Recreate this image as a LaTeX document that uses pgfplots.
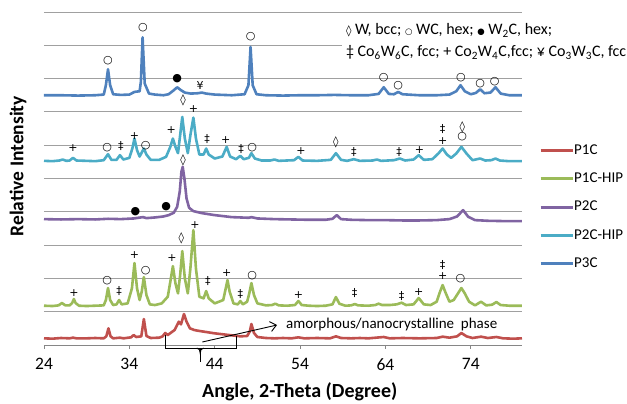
\documentclass[border=0pt]{standalone}
\usepackage{fontspec}
\setmainfont{Carlito}
\newfontfamily\sym{DejaVu Sans}
\usepackage{pgfplots}
\pgfplotsset{compat=1.18}
\usetikzlibrary{arrows.meta}
\definecolor{cred}{HTML}{C0504D}
\definecolor{cgreen}{HTML}{9BBB59}
\definecolor{cpurple}{HTML}{8064A2}
\definecolor{caqua}{HTML}{4BACC6}
\definecolor{cblue}{HTML}{4F81BD}
\definecolor{gridg}{HTML}{A0A0A0}
\definecolor{axg}{HTML}{868686}
\tikzset{
  mk/.style={inner sep=0pt, font=\sym\fontsize{11}{11}\selectfont},
  curve/.style={line width=2.6pt, line join=round, no markers},
}
% peak labels: \mk{x}{y}{symbol}
\newcommand{\mk}[3]{\node[mk] at (axis cs:#1,#2) {#3};}
\begin{document}
\begin{tikzpicture}
\begin{axis}[
  scale only axis, width=478pt, height=333pt,
  at={(0,0)}, anchor=south west,
  xmin=24, xmax=80, ymin=0, ymax=10,
  axis x line*=bottom, axis y line*=left,
  x axis line style={axg, line width=0.9pt},
  y axis line style={draw=none},
  xtick={24,34,...,74}, tick align=outside, major tick length=4pt,
  xtick style={axg, line width=0.9pt},
  ytick={1,...,10}, yticklabels={}, ytick style={draw=none},
  ymajorgrids, grid style={gridg, line width=0.9pt},
  /pgf/number format/assume math mode=true,
  xticklabel style={font=\fontsize{17.5}{17.5}\selectfont, yshift=-6pt},
  xlabel={Angle, 2-Theta (Degree)},
  ylabel={Relative Intensity},
  every axis x label/.style={at={(axis description cs:0.535,0)}, anchor=center,
     yshift=-47pt, font=\bfseries\fontsize{20}{20}\selectfont},
  every axis y label/.style={at={(axis description cs:-0.0544,0.537)}, anchor=center,
     rotate=90, font=\bfseries\fontsize{19.5}{19.5}\selectfont},
  legend style={at={(axis description cs:1.0356,0.414)}, anchor=west, draw=none,
     fill=none, inner sep=0pt, row sep=14.8pt, font=\fontsize{15}{15}\selectfont,
     nodes={inner sep=0pt, text height=10.5pt, text depth=3pt}},
  legend cell align=left,
  legend image code/.code={\draw[#1, line width=3pt] (0pt,0pt) -- (32pt,0pt);},
  clip=false,
]
% P1C
\addplot[curve, cred] coordinates {
 (24,0.2)(25,0.19)(26,0.21)(27,0.2)(27.4,0.22)(27.8,0.2)(29,0.2)(30,0.21)(31,0.2)
 (31.3,0.26)(31.55,0.5)(31.8,0.26)(32.1,0.2)(32.9,0.22)(33.3,0.2)(34.2,0.23)(34.5,0.3)
 (34.8,0.24)(35.4,0.26)(35.7,0.78)(36.0,0.27)(36.5,0.21)(37.5,0.22)(37.9,0.26)(38.2,0.36)
 (38.5,0.3)(39.3,0.45)(39.8,0.7)(40.05,0.62)(40.4,0.93)(40.7,0.7)(41.1,0.5)(41.6,0.45)
 (42,0.43)(43,0.39)(44,0.35)(45,0.32)(46,0.29)(47,0.26)(47.8,0.27)(48.1,0.4)(48.3,0.63)
 (48.6,0.36)(49,0.24)(50,0.21)(51,0.2)(52,0.21)(53,0.2)(53.8,0.23)(54.5,0.2)(56,0.21)
 (57.5,0.2)(58.2,0.26)(58.8,0.21)(60,0.2)(61,0.21)(62,0.2)(63.8,0.24)(64.5,0.2)(66,0.21)
 (68,0.2)(70,0.21)(70.7,0.25)(71.5,0.22)(72.4,0.26)(72.9,0.36)(73.5,0.26)(74.2,0.21)
 (75.2,0.25)(76,0.21)(77,0.24)(77.8,0.2)(79,0.19)(80,0.2)};
\addlegendentry{P1C}
% P1C-HIP
\addplot[curve, cgreen] coordinates {
 (24,1.18)(25,1.17)(25.7,1.19)(26.1,1.26)(26.5,1.19)(27.0,1.19)(27.3,1.26)(27.5,1.38)
 (27.7,1.26)(28.1,1.18)(29,1.17)(30,1.18)(31,1.19)(31.25,1.35)(31.5,1.71)(31.75,1.35)
 (32.1,1.2)(32.5,1.22)(32.8,1.35)(33.1,1.22)(33.8,1.25)(34.3,1.7)(34.6,2.46)(34.9,1.7)
 (35.2,1.35)(35.45,1.6)(35.7,2.04)(36.0,1.5)(36.4,1.22)(37,1.2)(37.8,1.25)(38.5,1.45)
 (38.8,1.9)(39.1,2.37)(39.4,1.85)(39.7,1.55)(39.95,2.1)(40.2,2.82)(40.5,2.0)(40.85,1.55)
 (41.15,2.3)(41.5,3.45)(41.8,2.3)(42.2,1.45)(42.7,1.4)(43.0,1.62)(43.3,1.4)(44.0,1.25)
 (45.0,1.35)(45.25,1.65)(45.5,1.95)(45.75,1.6)(46.2,1.25)(46.7,1.22)(47.0,1.32)(47.3,1.22)
 (47.8,1.3)(48.05,1.55)(48.3,1.86)(48.6,1.5)(49.0,1.25)(50,1.19)(50.7,1.2)(51.1,1.24)
 (51.5,1.19)(52.5,1.18)(53.4,1.2)(53.8,1.32)(54.2,1.2)(55,1.18)(56,1.17)(57,1.18)
 (57.8,1.22)(58.2,1.44)(58.6,1.24)(59.3,1.18)(60.0,1.19)(60.4,1.23)(60.8,1.19)(62,1.18)
 (62.8,1.2)(63.2,1.24)(63.6,1.2)(64.5,1.2)(65.3,1.22)(65.9,1.27)(66.4,1.2)(67.3,1.22)
 (67.9,1.41)(68.5,1.22)(69.3,1.2)(70.0,1.3)(70.4,1.6)(70.7,1.8)(71.0,1.6)(71.5,1.3)
 (72.0,1.35)(72.5,1.55)(72.9,1.71)(73.3,1.55)(73.8,1.3)(74.5,1.19)(75.2,1.3)(75.8,1.19)
 (76.5,1.21)(77.0,1.29)(77.5,1.2)(78.5,1.18)(80,1.18)};
\addlegendentry{P1C-HIP}
% P2C
\addplot[curve, cpurple] coordinates {
 (24,3.78)(26,3.77)(28,3.78)(30,3.77)(31.5,3.79)(33,3.78)(34.5,3.8)(35.6,3.84)(36,3.81)
 (37,3.83)(38,3.86)(38.6,3.9)(39.2,3.97)(39.6,4.15)(39.9,4.6)(40.1,5.2)(40.25,5.35)
 (40.45,5.0)(40.7,4.4)(41,4.12)(41.5,4.02)(42.5,3.96)(44,3.9)(46,3.84)(48,3.82)(48.3,3.84)
 (49,3.8)(51,3.78)(53,3.77)(55,3.76)(57,3.76)(57.8,3.79)(58.3,3.9)(58.8,3.78)(60,3.76)
 (62,3.75)(64,3.75)(66,3.74)(68,3.74)(70,3.75)(71.5,3.78)(72.4,3.86)(73.1,4.05)(73.7,3.85)
 (74.5,3.75)(76,3.73)(78,3.72)(80,3.72)};
\addlegendentry{P2C}
% P2C-HIP
\addplot[curve, caqua] coordinates {
 (24,5.53)(25,5.52)(25.8,5.54)(26.2,5.57)(26.6,5.53)(27.0,5.54)(27.4,5.62)(27.8,5.54)
 (29,5.53)(30,5.52)(31,5.55)(31.5,5.73)(31.9,5.56)(32.5,5.56)(32.9,5.7)(33.3,5.57)
 (34.0,5.62)(34.35,5.9)(34.6,6.2)(34.9,5.85)(35.2,5.66)(35.45,5.78)(35.7,5.9)(36.0,5.72)
 (36.5,5.56)(37.5,5.56)(38.3,5.65)(38.8,5.95)(39.1,6.2)(39.4,5.95)(39.7,5.76)(39.95,6.3)
 (40.2,6.85)(40.5,6.2)(40.85,5.76)(41.15,6.3)(41.5,6.83)(41.8,6.2)(42.2,5.72)(42.7,5.72)
 (43.0,5.9)(43.3,5.72)(44.0,5.6)(44.9,5.66)(45.4,5.95)(45.8,5.66)(46.5,5.58)(47.0,5.68)
 (47.4,5.58)(48.0,5.62)(48.3,5.76)(48.7,5.6)(49.5,5.54)(50.5,5.54)(51.0,5.57)(51.5,5.53)
 (53.3,5.55)(53.8,5.65)(54.3,5.54)(56,5.53)(57.6,5.56)(58.2,5.76)(58.8,5.56)(59.5,5.53)
 (60.3,5.58)(61,5.53)(62.5,5.54)(63.0,5.57)(63.5,5.53)(65,5.55)(65.7,5.6)(66.3,5.54)
 (67.3,5.57)(67.9,5.7)(68.5,5.56)(69.5,5.58)(70.2,5.75)(70.7,5.9)(71.2,5.72)(71.7,5.62)
 (72.3,5.75)(72.9,5.95)(73.5,5.75)(74.2,5.55)(75.1,5.6)(75.7,5.54)(76.4,5.55)(76.9,5.6)
 (77.4,5.54)(78.5,5.52)(80,5.52)};
\addlegendentry{P2C-HIP}
% P3C
\addplot[curve, cblue] coordinates {
 (24,7.5)(26,7.5)(28,7.49)(30,7.5)(31,7.52)(31.25,7.8)(31.5,8.28)(31.75,7.8)(32.1,7.53)
 (33,7.51)(34,7.52)(34.6,7.6)(35.2,7.62)(35.35,7.9)(35.55,9.24)(35.8,7.85)(36.3,7.55)
 (37,7.52)(38,7.5)(38.6,7.53)(39.2,7.65)(39.6,7.74)(40,7.66)(40.5,7.58)(41.2,7.55)
 (42,7.56)(42.5,7.58)(43,7.55)(44,7.52)(46,7.5)(47.5,7.53)(47.95,7.8)(48.2,8.95)
 (48.45,7.8)(48.9,7.53)(50,7.5)(52,7.49)(54,7.5)(56,7.5)(58,7.51)(60,7.5)(62,7.5)
 (63.2,7.54)(63.8,7.74)(64.4,7.54)(65,7.53)(65.5,7.6)(66,7.53)(68,7.5)(70,7.5)(71.5,7.52)
 (72.3,7.62)(72.8,7.8)(73.3,7.62)(74,7.53)(74.6,7.57)(75.1,7.68)(75.6,7.56)(76.3,7.58)
 (76.9,7.74)(77.5,7.55)(78.5,7.5)(80,7.5)};
\addlegendentry{P3C}

% phase key
\node[fill=white, inner sep=4pt, anchor=north west, align=left,
      font=\fontsize{16}{22}\selectfont] at (axis cs:58.9,9.78)
  {{\sym\fontsize{11}{11}\selectfont◊} W, bcc; {\sym\fontsize{8.5}{8.5}\selectfont○} WC, hex; {\sym\fontsize{8.5}{8.5}\selectfont●} W\textsubscript{2}C, hex;\\
   ‡ Co\textsubscript{6}W\textsubscript{6}C, fcc; + Co\textsubscript{2}W\textsubscript{4}C,fcc; ¥ Co\textsubscript{3}W\textsubscript{3}C, fcc};

% P3C labels
\mk{31.5}{8.53}{○}\mk{35.6}{9.52}{○}\mk{39.6}{8.0}{●}\mk{42.3}{7.78}{¥}
\mk{48.2}{9.25}{○}\mk{63.8}{8.03}{○}\mk{65.5}{7.8}{○}\mk{72.85}{8.02}{○}
\mk{75.1}{7.86}{○}\mk{76.8}{7.9}{○}
% P2C-HIP labels
\mk{40.3}{7.36}{◊}\mk{41.5}{7.08}{+}\mk{27.4}{5.9}{+}\mk{31.4}{5.94}{○}
\mk{33.0}{5.98}{‡}\mk{34.6}{6.27}{+}\mk{35.9}{5.98}{○}\mk{38.9}{6.45}{+}
\mk{43.1}{6.2}{‡}\mk{45.3}{6.15}{+}\mk{47.1}{5.9}{‡}\mk{48.4}{5.94}{○}
\mk{54.1}{5.83}{+}\mk{58.2}{6.1}{◊}\mk{60.3}{5.8}{‡}\mk{65.6}{5.8}{‡}
\mk{68.0}{5.86}{+}\mk{70.7}{6.5}{‡}\mk{70.7}{6.13}{+}\mk{73.0}{6.55}{◊}\mk{73.0}{6.25}{○}
% P2C labels
\mk{40.3}{5.55}{◊}\mk{34.7}{4.0}{●}\mk{38.3}{4.15}{●}
% P1C-HIP labels
\mk{27.5}{1.56}{+}\mk{31.4}{1.93}{○}\mk{32.8}{1.63}{‡}\mk{34.6}{2.7}{+}
\mk{35.9}{2.23}{○}\mk{39.0}{2.6}{+}\mk{40.1}{3.2}{◊}\mk{41.7}{3.6}{+}
\mk{43.2}{1.93}{‡}\mk{45.4}{2.17}{+}\mk{47.0}{1.53}{‡}\mk{48.4}{2.08}{○}
\mk{53.8}{1.5}{+}\mk{60.4}{1.56}{‡}\mk{65.9}{1.48}{‡}\mk{67.9}{1.6}{+}
\mk{70.7}{2.4}{‡}\mk{70.7}{2.07}{+}\mk{72.8}{1.98}{○}

% amorphous hump bracket and arrow
\draw[black, line width=0.9pt] (axis cs:38.2,0.3) -- (axis cs:38.2,-0.09)
  -- (axis cs:46.5,-0.09) -- (axis cs:46.5,0.27);
\draw[black, line width=0.9pt] (axis cs:42.3,-0.09) -- (axis cs:42.3,-0.5);
\draw[black, line width=0.9pt] (axis cs:41.9,-0.09) to[out=0,in=90] (axis cs:42.3,-0.25)
  to[out=90,in=180] (axis cs:42.7,-0.09);
\draw[black, line width=0.9pt, -{Straight Barb[length=6pt,width=10pt]}]
  (axis cs:42.55,0.09) -- (axis cs:51.3,0.6);
\node[anchor=west, inner sep=0pt, font=\fontsize{15}{15}\selectfont]
  at (axis cs:52.35,0.63) {amorphous/nanocrystalline\ \ phase};
\end{axis}
\pgfresetboundingbox
\path (-44pt,-59pt) rectangle (583pt,345pt);
\end{tikzpicture}
\end{document}
